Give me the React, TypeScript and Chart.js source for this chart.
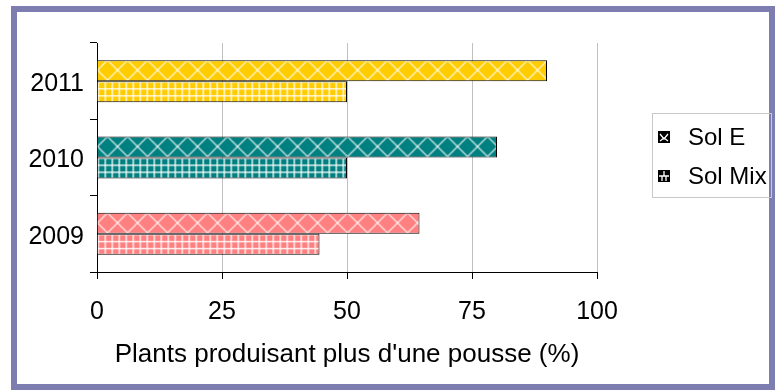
import React, { useEffect, useRef } from 'react';
import { Chart, registerables } from 'chart.js';

Chart.register(...registerables);

const categories = ['2011', '2010', '2009'];
const seriesNames = ['Sol E', 'Sol Mix'];
const solE = [90, 80, 64.5];
const solMix = [50, 50, 44.5];
const categoryColors = ['#FFCC00', '#008080', '#FF8080'];
const xTicks = [0, 25, 50, 75, 100];
const xTitle = "Plants produisant plus d'une pousse (%)";

const FONT = '"Liberation Sans", Arial, Helvetica, sans-serif';

function diamondTile(color: string): HTMLCanvasElement {
  const W = 20, H = 20;
  const c = document.createElement('canvas');
  c.width = W; c.height = H;
  const g = c.getContext('2d')!;
  g.fillStyle = color;
  g.fillRect(0, 0, W, H);
  g.strokeStyle = 'rgba(255,255,255,0.8)';
  g.lineWidth = 1.3;
  for (let dx = -W; dx <= W; dx += W) {
    for (let dy = -H; dy <= H; dy += H) {
      g.beginPath();
      g.moveTo(dx, dy + H / 2);
      g.lineTo(dx + W / 2, dy);
      g.lineTo(dx + W, dy + H / 2);
      g.lineTo(dx + W / 2, dy + H);
      g.closePath();
      g.stroke();
    }
  }
  return c;
}

function gridTile(color: string): HTMLCanvasElement {
  const S = 7;
  const c = document.createElement('canvas');
  c.width = S; c.height = S;
  const g = c.getContext('2d')!;
  g.fillStyle = color;
  g.fillRect(0, 0, S, S);
  g.fillStyle = 'rgba(255,255,255,0.9)';
  g.fillRect(0, 0, 1, S);
  g.fillRect(0, 0, S, 1);
  g.fillStyle = 'rgba(255,255,255,0.35)';
  g.fillRect(1, 1, 1, S - 1);
  g.fillRect(1, 1, S - 1, 1);
  return c;
}

export default function App() {
  const canvasRef = useRef<HTMLCanvasElement | null>(null);

  useEffect(() => {
    const canvas = canvasRef.current!;
    const ctx = canvas.getContext('2d')!;
    const patE = categoryColors.map((col) => ctx.createPattern(diamondTile(col), 'repeat')!);
    const patMix = categoryColors.map((col) => ctx.createPattern(gridTile(col), 'repeat')!);
    const patterns = [patE, patMix];

    const alignPlugin = {
      id: 'alignPatterns',
      beforeDatasetsDraw(chart: any) {
        chart.data.datasets.forEach((_ds: any, di: number) => {
          const meta = chart.getDatasetMeta(di);
          meta.data.forEach((el: any, i: number) => {
            const p = el.getProps(['x', 'y', 'base', 'height'], true);
            const pat = patterns[di][i];
            if (pat && (pat as any).setTransform) {
              pat.setTransform(new DOMMatrix([1, 0, 0, 1, Math.min(p.base, p.x), p.y - p.height / 2]));
            }
          });
        });
      },
    };

    const legendPlugin = {
      id: 'boxLegend',
      afterDraw(chart: any) {
        const c = chart.ctx as CanvasRenderingContext2D;
        c.save();
        c.strokeStyle = '#C8C8C8';
        c.lineWidth = 1;
        c.strokeRect(652.5, 113.5, 119, 84);
        const rows = [138, 177];
        seriesNames.forEach((name, i) => {
          const y = rows[i];
          const x0 = 658, s = 12;
          c.fillStyle = '#000';
          c.fillRect(x0, y - s / 2 - 1, s, s);
          c.strokeStyle = '#fff';
          c.lineWidth = 1.3;
          c.beginPath();
          const yc = y - 1;
          if (i === 0) {
            c.moveTo(x0 + 2, yc - 3); c.lineTo(x0 + 6, yc + 2); c.lineTo(x0 + 10, yc - 3);
            c.moveTo(x0 + 2, yc + 4); c.lineTo(x0 + 6, yc + 1); c.lineTo(x0 + 10, yc + 4);
          } else {
            c.moveTo(x0 + 1, yc); c.lineTo(x0 + s - 1, yc);
            c.moveTo(x0 + 4, yc); c.lineTo(x0 + 4, yc + s / 2 - 1);
            c.moveTo(x0 + 8, yc); c.lineTo(x0 + 8, yc + s / 2 - 1);
            c.moveTo(x0 + 6, yc - s / 2 + 1); c.lineTo(x0 + 6, yc);
          }
          c.stroke();
          c.fillStyle = '#000';
          c.font = '24px ' + FONT;
          c.textAlign = 'left';
          c.textBaseline = 'middle';
          c.fillText(name, 688, y);
        });
        c.restore();
      },
    };

    const chart = new Chart(canvas, {
      type: 'bar',
      data: {
        labels: categories,
        datasets: [
          {
            label: seriesNames[0],
            data: solE,
            backgroundColor: patE as any,
            borderColor: '#000',
            borderWidth: 1,
            categoryPercentage: 0.55,
            barPercentage: 1,
          },
          {
            label: seriesNames[1],
            data: solMix,
            backgroundColor: patMix as any,
            borderColor: '#000',
            borderWidth: 1,
            categoryPercentage: 0.55,
            barPercentage: 1,
          },
        ],
      },
      options: {
        indexAxis: 'y',
        responsive: false,
        animation: false,
        events: [],
        layout: { padding: { top: 43, right: 182, bottom: 0, left: 0 } },
        plugins: {
          legend: { display: false },
          tooltip: { enabled: false },
          title: { display: false },
        },
        scales: {
          x: {
            type: 'linear',
            min: 0,
            max: 100,
            afterBuildTicks: (s: any) => {
              s.ticks = xTicks.map((v) => ({ value: v }));
            },
            afterFit: (s: any) => {
              s.height = 118;
            },
            grid: {
              color: (c: any) => (c.tick && c.tick.value === 0 ? 'rgba(0,0,0,0)' : '#C0C0C0'),
              tickColor: '#000',
              tickLength: 7,
              lineWidth: 1,
            },
            border: { display: true, color: '#000', width: 1 },
            ticks: {
              color: '#000',
              font: { size: 25, family: FONT },
              padding: 18,
              maxRotation: 0,
            },
            title: {
              display: true,
              text: xTitle,
              color: '#000',
              font: { size: 26, family: FONT },
              padding: { top: 0, bottom: 20 },
            },
          },
          y: {
            type: 'category',
            afterFit: (s: any) => {
              s.width = 97;
            },
            grid: {
              offset: true,
              drawOnChartArea: false,
              tickColor: '#000',
              tickLength: 7,
              color: '#000',
            },
            border: { display: true, color: '#000', width: 1 },
            ticks: {
              color: '#000',
              font: { size: 25, family: FONT, lineHeight: '6px' },
              padding: 6,
              callback: function (this: any, value: any) {
                return ['', this.getLabelForValue(value)];
              },
            },
          },
        },
      },
      plugins: [alignPlugin, legendPlugin],
    });

    return () => chart.destroy();
  }, []);

  return (
    <div style={{ position: 'fixed', left: 0, top: 0, width: 779, height: 390, background: '#fff' }}>
      <div
        style={{
          position: 'absolute',
          left: 11,
          top: 6,
          width: 764,
          height: 384,
          boxSizing: 'border-box',
          border: '6px solid #7D7DB0',
        }}
      />
      <canvas
        ref={canvasRef}
        width={779}
        height={390}
        style={{ position: 'absolute', left: 0, top: 0, width: 779, height: 390 }}
      />
    </div>
  );
}
